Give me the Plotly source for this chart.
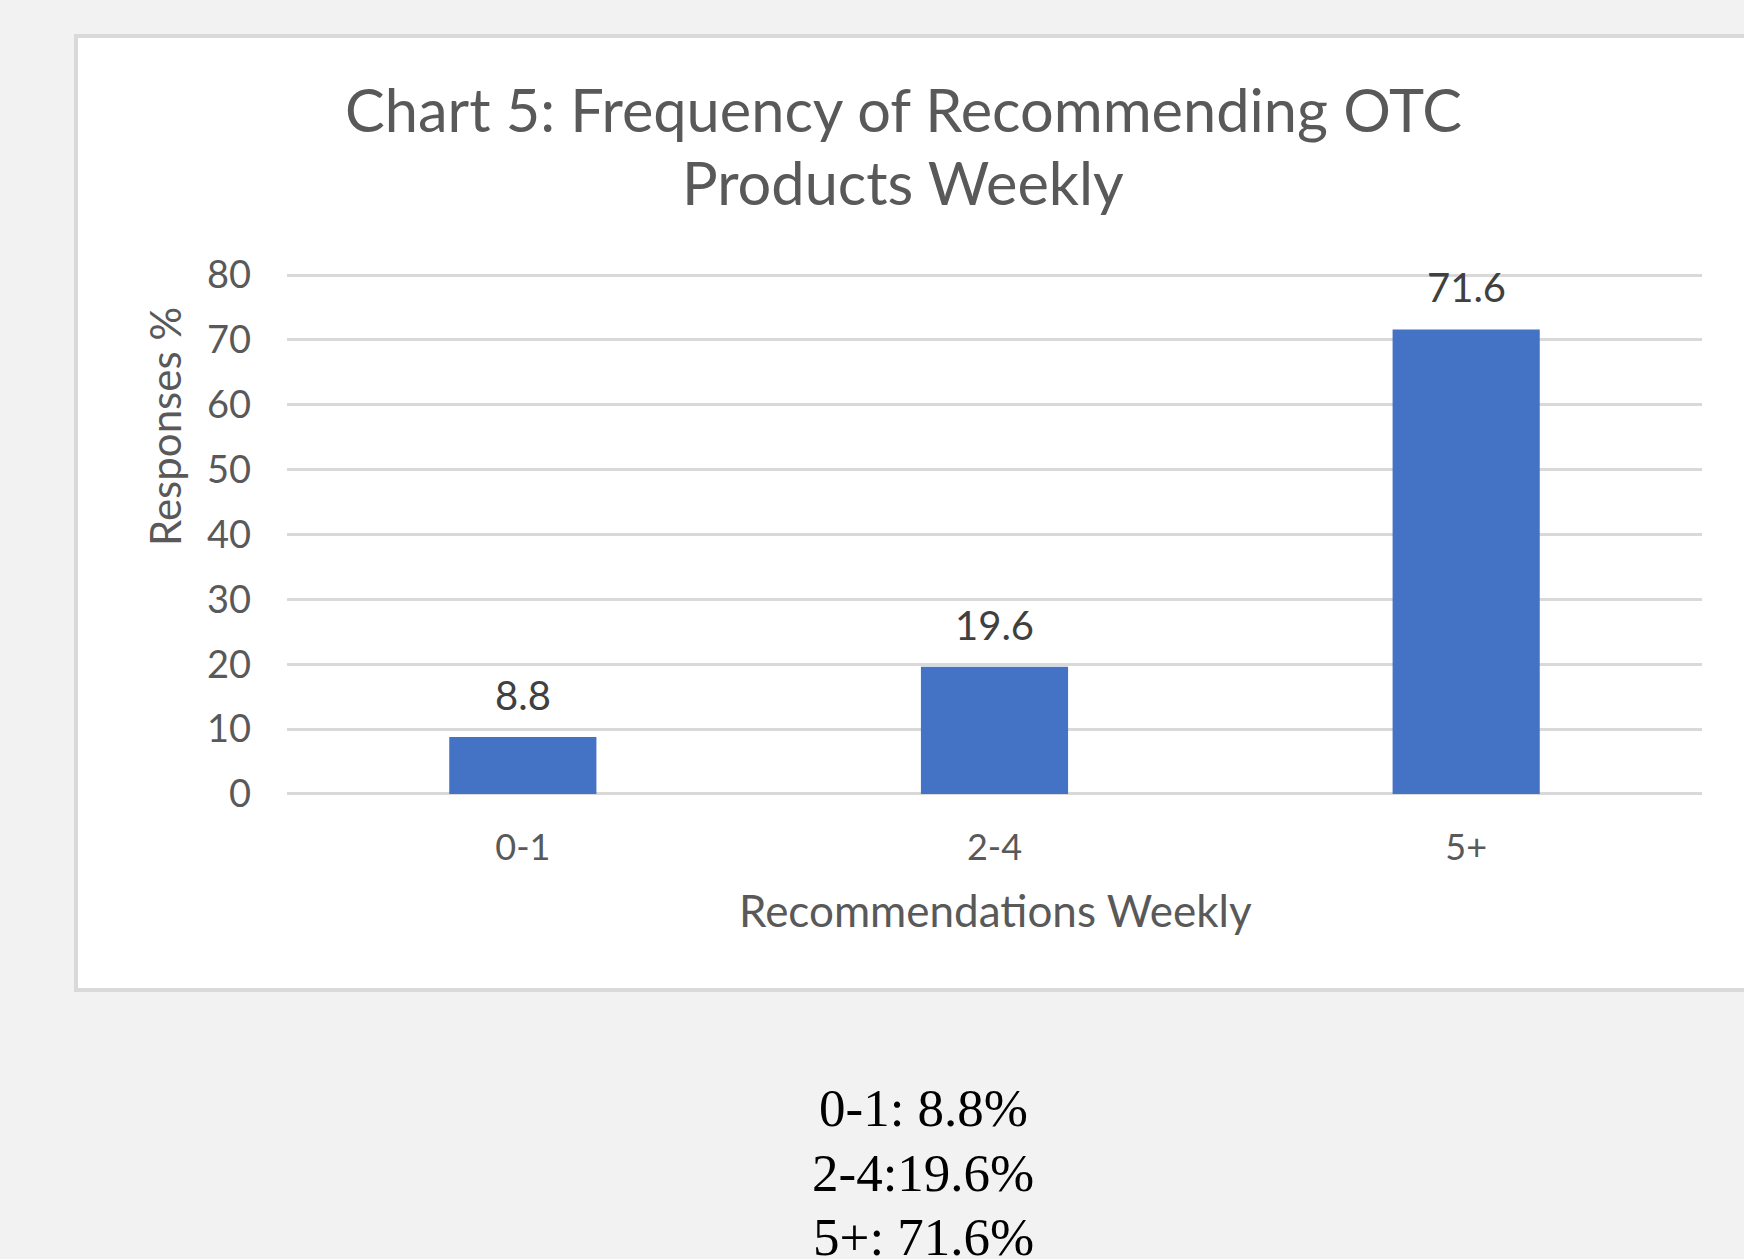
import plotly.graph_objects as go

# data
categories = ["0-1", "2-4", "5+"]
responses = [8.8, 19.6, 71.6]
y_ticks = [0, 10, 20, 30, 40, 50, 60, 70, 80]
title_lines = ["Chart 5: Frequency of Recommending OTC", "Products Weekly"]
summary_lines = ["0-1: 8.8%", "2-4:19.6%", "5+: 71.6%"]

W, H = 1744, 1259
FONT = "Lato"
GREY = "#595959"


def px(x):
    return x / W


def py(y):
    return 1 - y / H


fig = go.Figure()
fig.add_trace(go.Bar(x=categories, y=responses,
                     marker=dict(color="#4472c4", line=dict(width=0)),
                     hoverinfo="x+y"))

annotations = []
# bar value labels
for c, v in zip(categories, responses):
    annotations.append(dict(x=c, y=v, xref="x", yref="y", text=str(v),
                            showarrow=False, yanchor="middle", yshift=42,
                            font=dict(family=FONT, size=40, color="#404040")))

# titles
for i, line in enumerate(title_lines):
    annotations.append(dict(x=px(903), y=py(109 + 73 * i), xref="paper", yref="paper",
                            text=line, showarrow=False, xanchor="center",
                            yanchor="middle",
                            font=dict(family=FONT, size=59.5, color=GREY)))
annotations.append(dict(x=px(995), y=py(910), xref="paper", yref="paper",
                        text="Recommendations Weekly", showarrow=False,
                        xanchor="center", yanchor="middle",
                        font=dict(family=FONT, size=44, color=GREY)))
annotations.append(dict(x=px(165), y=py(427), xref="paper", yref="paper",
                        text="Responses %", showarrow=False, textangle=-90,
                        xanchor="center", yanchor="middle",
                        font=dict(family=FONT, size=42, color=GREY)))

# text under the chart
for i, line in enumerate(summary_lines):
    annotations.append(dict(x=px(923), y=py(1108 + 64.5 * i), xref="paper", yref="paper",
                            text=line, showarrow=False, xanchor="center",
                            yanchor="middle", height=40,
                            font=dict(family="Liberation Serif", size=53,
                                      color="black")))

# white chart frame
shapes = [dict(type="rect", xref="paper", yref="paper", layer="below",
               x0=px(76), x1=px(1760), y0=py(990), y1=py(36),
               fillcolor="white", line=dict(color="#d9d9d9", width=4))]

# plot top sits a little above the 80 gridline so that line gets drawn
y_max = 82
unit = (794 - 275) / 80
plot_top = 794 - y_max * unit

fig.update_layout(
    width=W, height=H,
    margin=dict(l=0, r=0, t=0, b=0, pad=0),
    paper_bgcolor="#f2f2f2",
    plot_bgcolor="white",
    showlegend=False,
    bargap=0.688,
    annotations=annotations,
    shapes=shapes,
    xaxis=dict(domain=[px(287), px(1702)], showgrid=False, showline=False,
               zeroline=False, ticks="", ticklabelstandoff=29, automargin=False,
               tickfont=dict(family=FONT, size=36, color=GREY)),
    yaxis=dict(domain=[py(794), py(plot_top)], range=[0, y_max], tickvals=y_ticks,
               showgrid=True, gridcolor="#d9d9d9", gridwidth=2.5,
               zeroline=True, zerolinecolor="#d9d9d9", zerolinewidth=2.5,
               showline=False, ticks="", ticklabelstandoff=35, automargin=False,
               tickfont=dict(family=FONT, size=38, color=GREY)),
)

fig.write_html("out.html", config={"displayModeBar": False},
               post_script="document.body.style.margin='0';"
                           "document.body.style.overflow='hidden';")
